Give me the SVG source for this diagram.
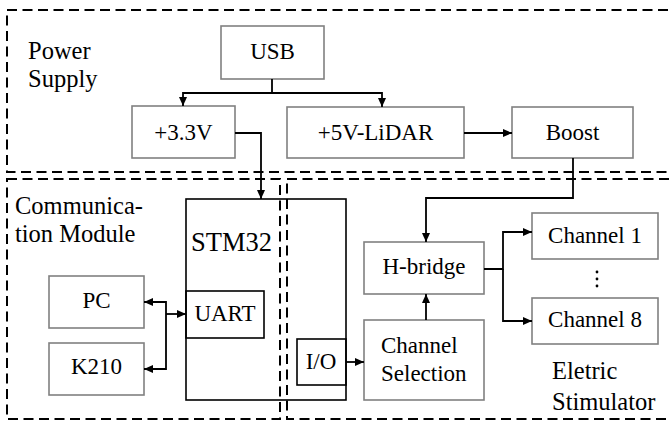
<svg xmlns="http://www.w3.org/2000/svg" width="669" height="424" viewBox="0 0 669 424">
  <style>
    .grp { fill: none; stroke: #000; stroke-width: 2; stroke-dasharray: 10 5.5; }
    .gbox { fill: #fff; stroke: #808080; stroke-width: 1.6; }
    .bbox { fill: none; stroke: #000; stroke-width: 1.6; }
    text { font-family: 'Liberation Serif', 'Times New Roman', 'DejaVu Serif', serif; fill: #000; }
    .t { font-size: 23px; }
    .lbl { font-size: 24.5px; }
    .c { text-anchor: middle; }
    .wire { fill: none; stroke: #000; stroke-width: 1.8; }
  </style>
  <defs>
    <marker id="arr" markerUnits="userSpaceOnUse" markerWidth="10" markerHeight="9" refX="9" refY="4" orient="auto">
      <path d="M0,0 L9,4 L0,8 z" fill="#000"/>
    </marker>
  </defs>
  <rect width="669" height="424" fill="#fff"/>

  <g id="labels" font-family="Liberation Serif, serif">
    <text class="lbl" x="28" y="59">Power</text>
    <text class="lbl" x="28" y="87">Supply</text>
    <text class="lbl" x="15" y="214">Communica-</text>
    <text class="lbl" x="15" y="242">tion Module</text>
    <text class="lbl" x="552" y="379">Eletric</text>
    <text class="lbl" x="552" y="410">Stimulator</text>
  </g>

  <g id="usb"><rect class="gbox" x="221" y="26" width="103" height="53"/><text class="t c" x="272.5" y="59">USB</text></g>
  <g id="v33"><rect class="gbox" x="132" y="106" width="103" height="52"/><text class="t c" x="183.5" y="140">+3.3V</text></g>
  <g id="v5lidar"><rect class="gbox" x="287" y="107" width="177" height="51"/><text class="t c" x="375.5" y="140">+5V-LiDAR</text></g>
  <g id="boost"><rect class="gbox" x="512" y="107" width="121" height="51"/><text class="t c" x="572.5" y="140">Boost</text></g>

  <g id="stm32">
    <rect class="bbox" x="186" y="199" width="160" height="201"/>
    <text class="t" x="191" y="251" style="font-size:26.5px">STM32</text>
  </g>
  <g id="uart"><rect class="bbox" x="186" y="291" width="78" height="47"/><text class="t c" x="225" y="321">UART</text></g>
  <g id="io"><rect class="bbox" x="297" y="339" width="49" height="46"/><text class="t c" x="321" y="369">I/O</text></g>

  <g id="pc"><rect class="gbox" x="49" y="276" width="95" height="52"/><text class="t c" x="96.5" y="308">PC</text></g>
  <g id="k210"><rect class="gbox" x="49" y="343" width="95" height="52"/><text class="t c" x="96.5" y="374">K210</text></g>

  <g id="hbridge"><rect class="gbox" x="364" y="242" width="120" height="52"/><text class="t c" x="424" y="274">H-bridge</text></g>
  <g id="chsel"><rect class="gbox" x="364" y="320" width="120" height="80"/><text class="t" x="381" y="353">Channel</text><text class="t" x="381" y="381">Selection</text></g>
  <g id="ch1"><rect class="gbox" x="532" y="213" width="126" height="46"/><text class="t c" x="595" y="243">Channel 1</text></g>
  <g id="ch8"><rect class="gbox" x="532" y="298" width="126" height="46"/><text class="t c" x="595" y="327">Channel 8</text></g>
  <g id="ellipsis">
    <circle cx="597" cy="272" r="1.4" fill="#000"/>
    <circle cx="597" cy="279" r="1.4" fill="#000"/>
    <circle cx="597" cy="286" r="1.4" fill="#000"/>
  </g>

  <g id="groups">
    <rect id="power-supply-group" class="grp" x="7" y="10" width="675" height="162"/>
    <rect id="communication-group" class="grp" x="7" y="179" width="273" height="240"/>
    <rect id="stimulator-group" class="grp" x="287" y="179" width="395" height="240"/>
  </g>

  <g id="connectors">
    <path class="wire" d="M272,79 V93 H183 V106" marker-end="url(#arr)"/>
    <path class="wire" d="M272,93 H382 V107" marker-end="url(#arr)"/>
    <path class="wire" d="M235,133 H261 V199" marker-end="url(#arr)"/>
    <path class="wire" d="M464,133 H512" marker-end="url(#arr)"/>
    <path class="wire" d="M573,158 V198 H426 V242" marker-end="url(#arr)"/>
    <path class="wire" d="M426,320 V294" marker-end="url(#arr)"/>
    <path class="wire" d="M484,269 H503 V232 H532" marker-end="url(#arr)"/>
    <path class="wire" d="M503,269 V321 H532" marker-end="url(#arr)"/>
    <path class="wire" d="M346,362 H364" marker-end="url(#arr)"/>
    <path class="wire" d="M166,314 H186" marker-end="url(#arr)"/>
    <path class="wire" d="M166,314 V302 H144" marker-end="url(#arr)"/>
    <path class="wire" d="M166,314 V369 H144" marker-end="url(#arr)"/>
  </g>
</svg>
